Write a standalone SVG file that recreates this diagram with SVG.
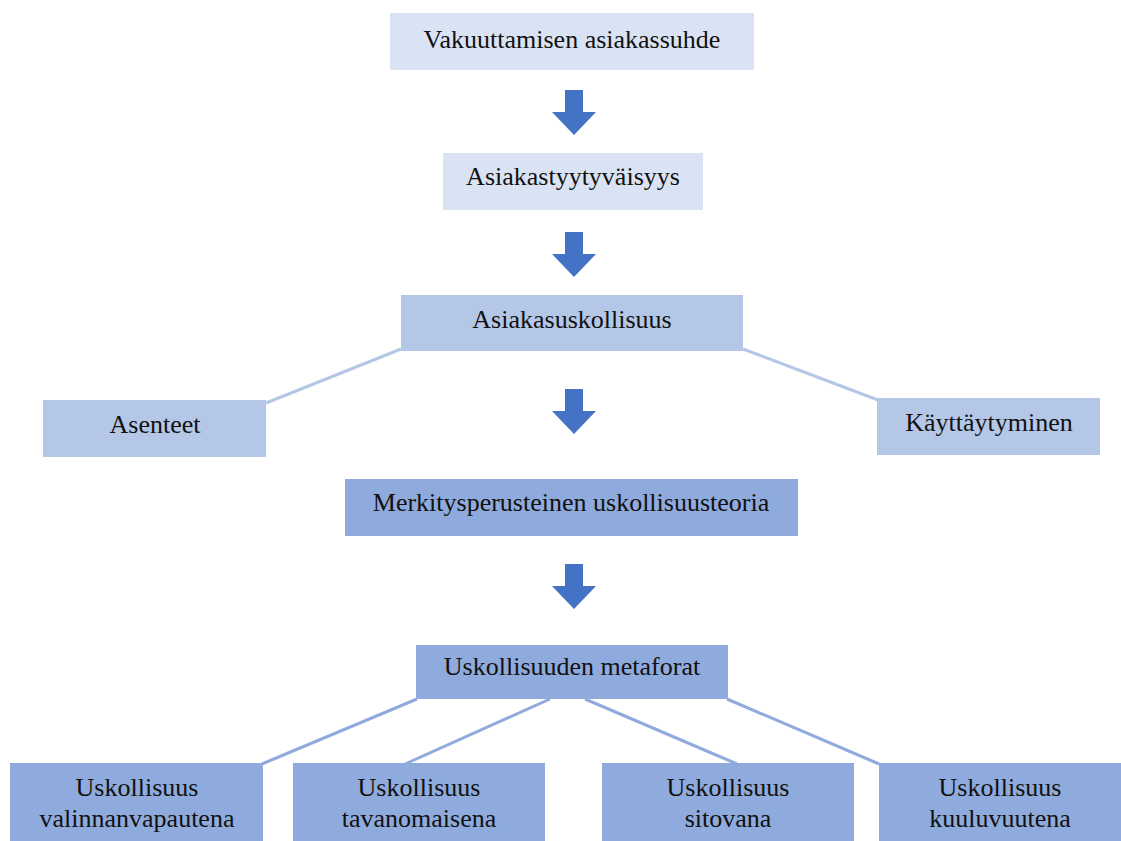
<svg xmlns="http://www.w3.org/2000/svg" width="1121" height="841" viewBox="0 0 1121 841">
<style>
.t{font-family:"Liberation Serif","Times New Roman",serif;font-size:26px;fill:#111;text-anchor:middle}
.l1{fill:#dae3f3}
.l2{fill:#b4c7e7}
.l3{fill:#8faadc}
.c1{stroke:#b4c7e7;stroke-width:3;fill:none}
.c2{stroke:#8faadc;stroke-width:3;fill:none}
.ar{fill:#4472c4}
</style>
<defs>
<path id="arr" d="M-9,0 H9 V22 H22 L0,45 L-22,22 H-9 Z"/>
</defs>
<rect width="1121" height="841" fill="#fff"/>
<g id="connectors">
<line class="c1" x1="401" y1="349" x2="266" y2="403"/>
<line class="c1" x1="743" y1="349" x2="878" y2="400"/>
<line class="c2" x1="417" y1="699" x2="262" y2="764"/>
<line class="c2" x1="550" y1="699" x2="405" y2="764"/>
<line class="c2" x1="585" y1="699" x2="737" y2="764"/>
<line class="c2" x1="727" y1="699" x2="879" y2="764"/>
<use href="#arr" class="ar" x="574" y="90"/>
<use href="#arr" class="ar" x="574" y="232"/>
<use href="#arr" class="ar" x="574" y="389"/>
<use href="#arr" class="ar" x="574" y="564"/>
</g>
<g id="n1"><rect class="l1" x="390" y="13" width="364" height="57"/><text class="t" x="572" y="48">Vakuuttamisen asiakassuhde</text></g>
<g id="n2"><rect class="l1" x="443" y="153" width="260" height="57"/><text class="t" x="573" y="185">Asiakastyytyväisyys</text></g>
<g id="n3"><rect class="l2" x="401" y="295" width="342" height="56"/><text class="t" x="572" y="328">Asiakasuskollisuus</text></g>
<g id="n4"><rect class="l2" x="43" y="400" width="223" height="57"/><text class="t" x="155" y="433">Asenteet</text></g>
<g id="n5"><rect class="l2" x="877" y="398" width="223" height="57"/><text class="t" x="989" y="431">Käyttäytyminen</text></g>
<g id="n6"><rect class="l3" x="345" y="479" width="453" height="57"/><text class="t" x="571" y="511">Merkitysperusteinen uskollisuusteoria</text></g>
<g id="n7"><rect class="l3" x="416" y="645" width="312" height="54"/><text class="t" x="572" y="675">Uskollisuuden metaforat</text></g>
<g id="n8"><rect class="l3" x="10" y="763" width="253" height="80"/><text class="t" x="137" y="796">Uskollisuus</text><text class="t" x="137" y="827">valinnanvapautena</text></g>
<g id="n9"><rect class="l3" x="293" y="763" width="252" height="80"/><text class="t" x="419" y="796">Uskollisuus</text><text class="t" x="419" y="827">tavanomaisena</text></g>
<g id="n10"><rect class="l3" x="602" y="763" width="252" height="80"/><text class="t" x="728" y="796">Uskollisuus</text><text class="t" x="728" y="827">sitovana</text></g>
<g id="n11"><rect class="l3" x="879" y="763" width="242" height="80"/><text class="t" x="1000" y="796">Uskollisuus</text><text class="t" x="1000" y="827">kuuluvuutena</text></g>
</svg>
